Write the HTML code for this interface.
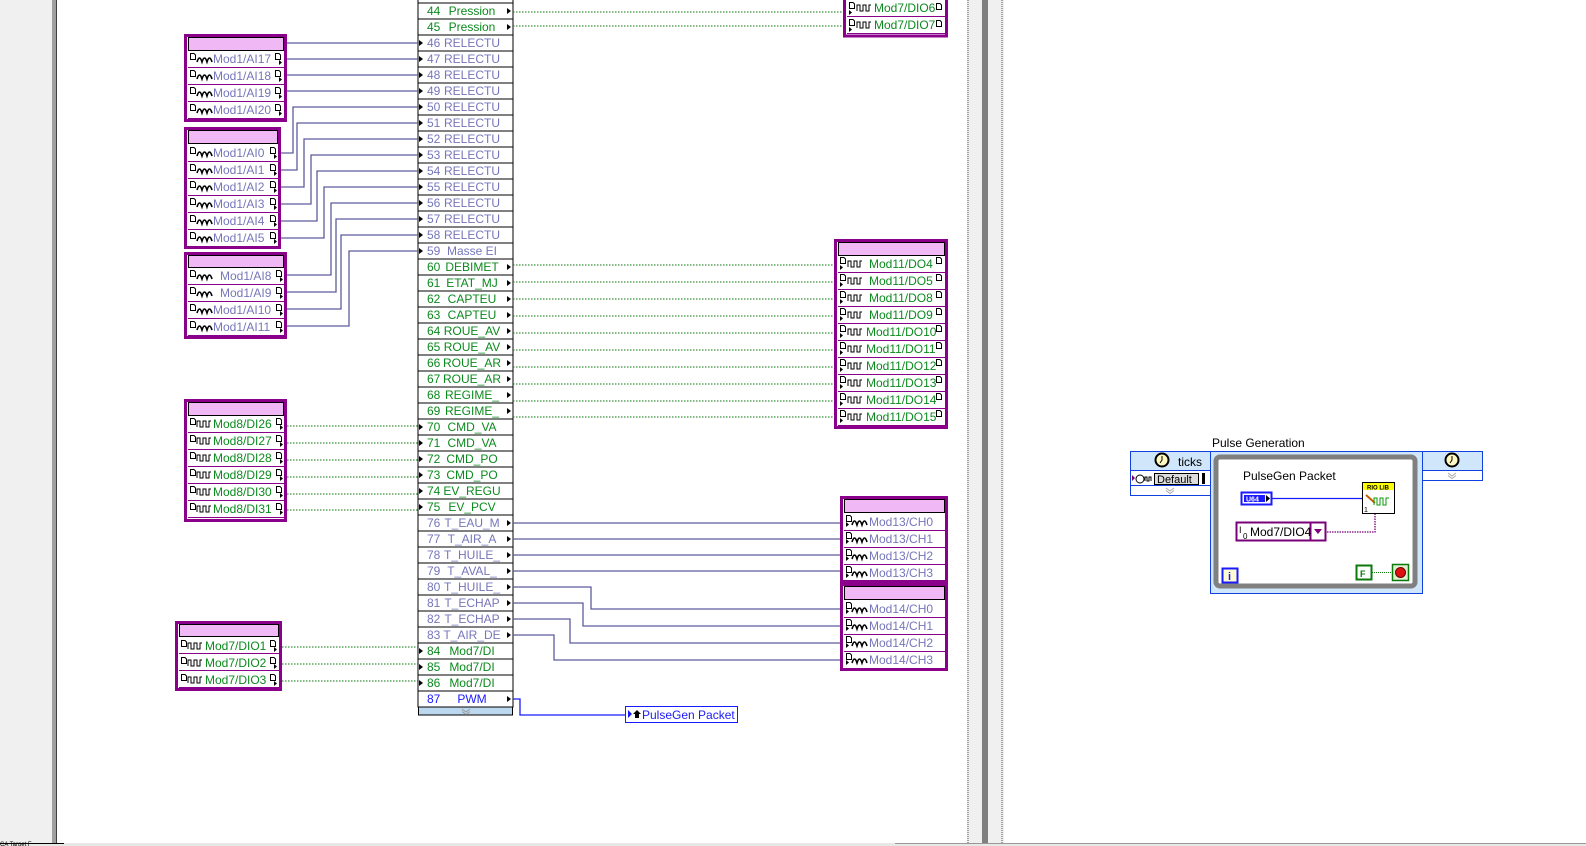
<!DOCTYPE html>
<html><head><meta charset="utf-8">
<style>
html,body{margin:0;padding:0;background:#fff;width:1586px;height:846px;overflow:hidden}
svg{display:block;font-family:"Liberation Sans",sans-serif;font-size:12px}
.g{fill:#0b8a1e}.p{fill:#7676bb}.b{fill:#1a1aff}
.tb{font-size:12px}
.wp{stroke:#5c5c9c;stroke-width:1.3;fill:none}
.wg{stroke:#0a7a0a;stroke-width:1;stroke-dasharray:1.5 1.5;fill:none}
</style></head><body>
<svg width="1586" height="846" viewBox="0 0 1586 846" xmlns="http://www.w3.org/2000/svg">
<defs>
<g id="aw"><path d="M0 7 Q2.5 -1 5 7 Q7.5 -1 10 7 Q12.5 -1 15 7" stroke="#000" stroke-width="1.6" fill="none"/></g>
<g id="sw"><path d="M0 7 V1 H3 V7 H6 V1 H9 V7 H12 V1 H14" stroke="#000" stroke-width="1" fill="none"/></g>
<g id="doc"><path d="M0.5 0.5 H4 L5.5 2 V6.5 H0.5 Z" stroke="#000" stroke-width="1" fill="#fff"/></g>
<g id="arr"><path d="M0 0 L4 3 L0 6 Z" fill="#000"/></g>
<g id="sa"><path d="M0 0 L3 2.5 L0 5 Z" fill="#000"/></g>
</defs>

<rect x="0" y="0" width="52" height="846" fill="#f0f0f0"/>
<rect x="52" y="0" width="5" height="843" fill="#a0a0a0"/>
<rect x="56" y="0" width="1" height="843" fill="#404040"/>
<rect x="967" y="0" width="37" height="843" fill="#f0f0f0"/>
<line x1="968" y1="0" x2="968" y2="843" stroke="#555" stroke-dasharray="1 1"/>
<line x1="1002" y1="0" x2="1002" y2="843" stroke="#555" stroke-dasharray="1 1"/>
<rect x="982" y="0" width="6" height="843" fill="#808080"/>
<rect x="0" y="843" width="1586" height="3" fill="#e8e8e8"/>
<line x1="0" y1="843.5" x2="64" y2="843.5" stroke="#000"/>
<line x1="895" y1="843.5" x2="1586" y2="843.5" stroke="#999"/>

<rect x="418" y="-13" width="95" height="720" fill="#fff" stroke="#000"/>
<g stroke="#000" stroke-width="1">
<line x1="418" y1="3" x2="513" y2="3"/><line x1="418" y1="19" x2="513" y2="19"/><line x1="418" y1="35" x2="513" y2="35"/><line x1="418" y1="51" x2="513" y2="51"/><line x1="418" y1="67" x2="513" y2="67"/><line x1="418" y1="83" x2="513" y2="83"/><line x1="418" y1="99" x2="513" y2="99"/><line x1="418" y1="115" x2="513" y2="115"/><line x1="418" y1="131" x2="513" y2="131"/><line x1="418" y1="147" x2="513" y2="147"/><line x1="418" y1="163" x2="513" y2="163"/><line x1="418" y1="179" x2="513" y2="179"/><line x1="418" y1="195" x2="513" y2="195"/><line x1="418" y1="211" x2="513" y2="211"/><line x1="418" y1="227" x2="513" y2="227"/><line x1="418" y1="243" x2="513" y2="243"/><line x1="418" y1="259" x2="513" y2="259"/><line x1="418" y1="275" x2="513" y2="275"/><line x1="418" y1="291" x2="513" y2="291"/><line x1="418" y1="307" x2="513" y2="307"/><line x1="418" y1="323" x2="513" y2="323"/><line x1="418" y1="339" x2="513" y2="339"/><line x1="418" y1="355" x2="513" y2="355"/><line x1="418" y1="371" x2="513" y2="371"/><line x1="418" y1="387" x2="513" y2="387"/><line x1="418" y1="403" x2="513" y2="403"/><line x1="418" y1="419" x2="513" y2="419"/><line x1="418" y1="435" x2="513" y2="435"/><line x1="418" y1="451" x2="513" y2="451"/><line x1="418" y1="467" x2="513" y2="467"/><line x1="418" y1="483" x2="513" y2="483"/><line x1="418" y1="499" x2="513" y2="499"/><line x1="418" y1="515" x2="513" y2="515"/><line x1="418" y1="531" x2="513" y2="531"/><line x1="418" y1="547" x2="513" y2="547"/><line x1="418" y1="563" x2="513" y2="563"/><line x1="418" y1="579" x2="513" y2="579"/><line x1="418" y1="595" x2="513" y2="595"/><line x1="418" y1="611" x2="513" y2="611"/><line x1="418" y1="627" x2="513" y2="627"/><line x1="418" y1="643" x2="513" y2="643"/><line x1="418" y1="659" x2="513" y2="659"/><line x1="418" y1="675" x2="513" y2="675"/><line x1="418" y1="691" x2="513" y2="691"/>
</g>
<rect x="418.5" y="707" width="94" height="8" fill="#bcd8ee" stroke="#000"/>
<path d="M462 709 L466 712 L470 709 M462 711.5 L466 714.5 L470 711.5" stroke="#999" fill="none"/>
<g class="tb">
<text x="427" y="15" class="g">44</text><text x="472" y="15" class="g" text-anchor="middle">Pression</text>
<text x="427" y="31" class="g">45</text><text x="472" y="31" class="g" text-anchor="middle">Pression</text>
<text x="427" y="47" class="p">46</text><text x="472" y="47" class="p" text-anchor="middle">RELECTU</text>
<text x="427" y="63" class="p">47</text><text x="472" y="63" class="p" text-anchor="middle">RELECTU</text>
<text x="427" y="79" class="p">48</text><text x="472" y="79" class="p" text-anchor="middle">RELECTU</text>
<text x="427" y="95" class="p">49</text><text x="472" y="95" class="p" text-anchor="middle">RELECTU</text>
<text x="427" y="111" class="p">50</text><text x="472" y="111" class="p" text-anchor="middle">RELECTU</text>
<text x="427" y="127" class="p">51</text><text x="472" y="127" class="p" text-anchor="middle">RELECTU</text>
<text x="427" y="143" class="p">52</text><text x="472" y="143" class="p" text-anchor="middle">RELECTU</text>
<text x="427" y="159" class="p">53</text><text x="472" y="159" class="p" text-anchor="middle">RELECTU</text>
<text x="427" y="175" class="p">54</text><text x="472" y="175" class="p" text-anchor="middle">RELECTU</text>
<text x="427" y="191" class="p">55</text><text x="472" y="191" class="p" text-anchor="middle">RELECTU</text>
<text x="427" y="207" class="p">56</text><text x="472" y="207" class="p" text-anchor="middle">RELECTU</text>
<text x="427" y="223" class="p">57</text><text x="472" y="223" class="p" text-anchor="middle">RELECTU</text>
<text x="427" y="239" class="p">58</text><text x="472" y="239" class="p" text-anchor="middle">RELECTU</text>
<text x="427" y="255" class="p">59</text><text x="472" y="255" class="p" text-anchor="middle">Masse EI</text>
<text x="427" y="271" class="g">60</text><text x="472" y="271" class="g" text-anchor="middle">DEBIMET</text>
<text x="427" y="287" class="g">61</text><text x="472" y="287" class="g" text-anchor="middle">ETAT_MJ</text>
<text x="427" y="303" class="g">62</text><text x="472" y="303" class="g" text-anchor="middle">CAPTEU</text>
<text x="427" y="319" class="g">63</text><text x="472" y="319" class="g" text-anchor="middle">CAPTEU</text>
<text x="427" y="335" class="g">64</text><text x="472" y="335" class="g" text-anchor="middle">ROUE_AV</text>
<text x="427" y="351" class="g">65</text><text x="472" y="351" class="g" text-anchor="middle">ROUE_AV</text>
<text x="427" y="367" class="g">66</text><text x="472" y="367" class="g" text-anchor="middle">ROUE_AR</text>
<text x="427" y="383" class="g">67</text><text x="472" y="383" class="g" text-anchor="middle">ROUE_AR</text>
<text x="427" y="399" class="g">68</text><text x="472" y="399" class="g" text-anchor="middle">REGIME_</text>
<text x="427" y="415" class="g">69</text><text x="472" y="415" class="g" text-anchor="middle">REGIME_</text>
<text x="427" y="431" class="g">70</text><text x="472" y="431" class="g" text-anchor="middle">CMD_VA</text>
<text x="427" y="447" class="g">71</text><text x="472" y="447" class="g" text-anchor="middle">CMD_VA</text>
<text x="427" y="463" class="g">72</text><text x="472" y="463" class="g" text-anchor="middle">CMD_PO</text>
<text x="427" y="479" class="g">73</text><text x="472" y="479" class="g" text-anchor="middle">CMD_PO</text>
<text x="427" y="495" class="g">74</text><text x="472" y="495" class="g" text-anchor="middle">EV_REGU</text>
<text x="427" y="511" class="g">75</text><text x="472" y="511" class="g" text-anchor="middle">EV_PCV</text>
<text x="427" y="527" class="p">76</text><text x="472" y="527" class="p" text-anchor="middle">T_EAU_M</text>
<text x="427" y="543" class="p">77</text><text x="472" y="543" class="p" text-anchor="middle">T_AIR_A</text>
<text x="427" y="559" class="p">78</text><text x="472" y="559" class="p" text-anchor="middle">T_HUILE_</text>
<text x="427" y="575" class="p">79</text><text x="472" y="575" class="p" text-anchor="middle">T_AVAL_</text>
<text x="427" y="591" class="p">80</text><text x="472" y="591" class="p" text-anchor="middle">T_HUILE_</text>
<text x="427" y="607" class="p">81</text><text x="472" y="607" class="p" text-anchor="middle">T_ECHAP</text>
<text x="427" y="623" class="p">82</text><text x="472" y="623" class="p" text-anchor="middle">T_ECHAP</text>
<text x="427" y="639" class="p">83</text><text x="472" y="639" class="p" text-anchor="middle">T_AIR_DE</text>
<text x="427" y="655" class="g">84</text><text x="472" y="655" class="g" text-anchor="middle">Mod7/DI</text>
<text x="427" y="671" class="g">85</text><text x="472" y="671" class="g" text-anchor="middle">Mod7/DI</text>
<text x="427" y="687" class="g">86</text><text x="472" y="687" class="g" text-anchor="middle">Mod7/DI</text>
<text x="427" y="703" class="b">87</text><text x="472" y="703" class="b" text-anchor="middle">PWM</text>
</g>
<g>
<use href="#arr" x="419" y="40"/><use href="#arr" x="419" y="56"/><use href="#arr" x="419" y="72"/><use href="#arr" x="419" y="88"/><use href="#arr" x="419" y="104"/><use href="#arr" x="419" y="120"/><use href="#arr" x="419" y="136"/><use href="#arr" x="419" y="152"/><use href="#arr" x="419" y="168"/><use href="#arr" x="419" y="184"/><use href="#arr" x="419" y="200"/><use href="#arr" x="419" y="216"/><use href="#arr" x="419" y="232"/><use href="#arr" x="419" y="248"/>
<use href="#arr" x="419" y="424"/><use href="#arr" x="419" y="440"/><use href="#arr" x="419" y="456"/><use href="#arr" x="419" y="472"/><use href="#arr" x="419" y="488"/><use href="#arr" x="419" y="504"/>
<use href="#arr" x="419" y="648"/><use href="#arr" x="419" y="664"/><use href="#arr" x="419" y="680"/>
<use href="#arr" x="507" y="8"/><use href="#arr" x="507" y="24"/>
<use href="#arr" x="507" y="264"/><use href="#arr" x="507" y="280"/><use href="#arr" x="507" y="296"/><use href="#arr" x="507" y="312"/><use href="#arr" x="507" y="328"/><use href="#arr" x="507" y="344"/><use href="#arr" x="507" y="360"/><use href="#arr" x="507" y="376"/><use href="#arr" x="507" y="392"/><use href="#arr" x="507" y="408"/>
<use href="#arr" x="507" y="520"/><use href="#arr" x="507" y="536"/><use href="#arr" x="507" y="552"/><use href="#arr" x="507" y="568"/><use href="#arr" x="507" y="584"/><use href="#arr" x="507" y="600"/><use href="#arr" x="507" y="616"/><use href="#arr" x="507" y="632"/><use href="#arr" x="507" y="696"/>
</g>

<g class="wp">
<path d="M287 43 H418"/><path d="M287 59 H418"/><path d="M287 75 H418"/><path d="M287 91 H418"/>
<path d="M281 153 H293 V107 H418"/><path d="M281 170 H297 V123 H418"/><path d="M281 187 H304 V139 H418"/><path d="M281 204 H311 V155 H418"/><path d="M281 221 H317 V171 H418"/><path d="M281 238 H324 V187 H418"/>
<path d="M287 275 H331 V203 H418"/><path d="M287 292 H336 V219 H418"/><path d="M287 309 H341 V235 H418"/><path d="M287 326 H349 V251 H418"/>
<path d="M513 523 H840"/><path d="M513 539 H840"/><path d="M513 555 H840"/><path d="M513 571 H840"/>
<path d="M513 587 H591 V609 H840"/><path d="M513 603 H583 V626 H840"/><path d="M513 619 H570 V643 H840"/><path d="M513 635 H554 V660 H840"/>
</g>
<path d="M513 699 H520 V715 H625" stroke="#1a1aff" stroke-width="1.3" fill="none"/>
<g class="wg">
<path d="M513 12 H843"/><path d="M513 26 H843"/>
<path d="M513 265 H834"/><path d="M513 282 H834"/><path d="M513 299 H834"/><path d="M513 316 H834"/><path d="M513 333 H834"/><path d="M513 350 H834"/><path d="M513 367 H834"/><path d="M513 384 H834"/><path d="M513 401 H834"/><path d="M513 417 H834"/>
<path d="M287 426 H418"/><path d="M287 443 H418"/><path d="M287 460 H418"/><path d="M287 477 H418"/><path d="M287 494 H418"/><path d="M287 510 H418"/>
<path d="M282 647 H418"/><path d="M282 664 H418"/><path d="M282 681 H418"/>
</g>

<g>
<rect x="185.5" y="35.5" width="100" height="85" fill="#fff" stroke="#8b008b" stroke-width="3"/>
<rect x="188.5" y="37.5" width="95" height="13" fill="#f0b8f4" stroke="#000"/>
<g stroke="#8b008b"><line x1="188" y1="67.5" x2="284" y2="67.5"/><line x1="188" y1="84.5" x2="284" y2="84.5"/><line x1="188" y1="101.5" x2="284" y2="101.5"/><line x1="188" y1="118.5" x2="284" y2="118.5"/></g>
<g class="p"><text x="213" y="63">Mod1/AI17</text><text x="213" y="80">Mod1/AI18</text><text x="213" y="97">Mod1/AI19</text><text x="213" y="114">Mod1/AI20</text></g>
<rect x="185.5" y="128.5" width="94" height="119" fill="#fff" stroke="#8b008b" stroke-width="3"/>
<rect x="188.5" y="130.5" width="89" height="13" fill="#f0b8f4" stroke="#000"/>
<g stroke="#8b008b"><line x1="188" y1="161.5" x2="278" y2="161.5"/><line x1="188" y1="178.5" x2="278" y2="178.5"/><line x1="188" y1="195.5" x2="278" y2="195.5"/><line x1="188" y1="212.5" x2="278" y2="212.5"/><line x1="188" y1="229.5" x2="278" y2="229.5"/></g>
<g class="p"><text x="213" y="157">Mod1/AI0</text><text x="213" y="174">Mod1/AI1</text><text x="213" y="191">Mod1/AI2</text><text x="213" y="208">Mod1/AI3</text><text x="213" y="225">Mod1/AI4</text><text x="213" y="242">Mod1/AI5</text></g>
<rect x="185.5" y="253.5" width="100" height="84" fill="#fff" stroke="#8b008b" stroke-width="3"/>
<rect x="188.5" y="255.5" width="95" height="12" fill="#f0b8f4" stroke="#000"/>
<g stroke="#8b008b"><line x1="188" y1="284.5" x2="284" y2="284.5"/><line x1="188" y1="301.5" x2="284" y2="301.5"/><line x1="188" y1="318.5" x2="284" y2="318.5"/><line x1="188" y1="335.5" x2="284" y2="335.5"/></g>
<g class="p"><text x="220" y="280">Mod1/AI8</text><text x="220" y="297">Mod1/AI9</text><text x="213" y="314">Mod1/AI10</text><text x="213" y="331">Mod1/AI11</text></g>
<rect x="185.5" y="400.5" width="100" height="120" fill="#fff" stroke="#8b008b" stroke-width="3"/>
<rect x="188.5" y="402.5" width="95" height="13" fill="#f0b8f4" stroke="#000"/>
<g stroke="#8b008b"><line x1="188" y1="432.5" x2="284" y2="432.5"/><line x1="188" y1="449.5" x2="284" y2="449.5"/><line x1="188" y1="466.5" x2="284" y2="466.5"/><line x1="188" y1="483.5" x2="284" y2="483.5"/><line x1="188" y1="500.5" x2="284" y2="500.5"/><line x1="188" y1="517.5" x2="284" y2="517.5"/></g>
<g class="g"><text x="213" y="428">Mod8/DI26</text><text x="213" y="445">Mod8/DI27</text><text x="213" y="462">Mod8/DI28</text><text x="213" y="479">Mod8/DI29</text><text x="213" y="496">Mod8/DI30</text><text x="213" y="513">Mod8/DI31</text></g>
<rect x="176.5" y="622.5" width="104" height="67" fill="#fff" stroke="#8b008b" stroke-width="3"/>
<rect x="179.5" y="624.5" width="99" height="12" fill="#f0b8f4" stroke="#000"/>
<g stroke="#8b008b"><line x1="179" y1="653.5" x2="279" y2="653.5"/><line x1="179" y1="670.5" x2="279" y2="670.5"/><line x1="179" y1="687.5" x2="279" y2="687.5"/></g>
<g class="g"><text x="205" y="650">Mod7/DIO1</text><text x="205" y="667">Mod7/DIO2</text><text x="205" y="684">Mod7/DIO3</text></g>
<rect x="844.5" y="-20" width="102" height="56" fill="#fff" stroke="#8b008b" stroke-width="3"/>
<g stroke="#8b008b"><line x1="847" y1="16.5" x2="945" y2="16.5"/><line x1="847" y1="33.5" x2="945" y2="33.5"/></g>
<g class="g"><text x="874" y="12">Mod7/DIO6</text><text x="874" y="29">Mod7/DIO7</text></g>
<rect x="835.5" y="240.5" width="111" height="187" fill="#fff" stroke="#8b008b" stroke-width="3"/>
<rect x="838.5" y="242.5" width="106" height="13" fill="#f0b8f4" stroke="#000"/>
<g stroke="#8b008b"><line x1="838" y1="272.5" x2="945" y2="272.5"/><line x1="838" y1="289.5" x2="945" y2="289.5"/><line x1="838" y1="306.5" x2="945" y2="306.5"/><line x1="838" y1="323.5" x2="945" y2="323.5"/><line x1="838" y1="340.5" x2="945" y2="340.5"/><line x1="838" y1="357.5" x2="945" y2="357.5"/><line x1="838" y1="374.5" x2="945" y2="374.5"/><line x1="838" y1="391.5" x2="945" y2="391.5"/><line x1="838" y1="408.5" x2="945" y2="408.5"/><line x1="838" y1="425.5" x2="945" y2="425.5"/></g>
<g class="g"><text x="869" y="268">Mod11/DO4</text><text x="869" y="285">Mod11/DO5</text><text x="869" y="302">Mod11/DO8</text><text x="869" y="319">Mod11/DO9</text><text x="866" y="336">Mod11/DO10</text><text x="866" y="353">Mod11/DO11</text><text x="866" y="370">Mod11/DO12</text><text x="866" y="387">Mod11/DO13</text><text x="866" y="404">Mod11/DO14</text><text x="866" y="421">Mod11/DO15</text></g>
<rect x="841.5" y="497.5" width="105" height="84" fill="#fff" stroke="#8b008b" stroke-width="3"/>
<rect x="844.5" y="499.5" width="100" height="13" fill="#f0b8f4" stroke="#000"/>
<g stroke="#8b008b"><line x1="844" y1="530.5" x2="945" y2="530.5"/><line x1="844" y1="547.5" x2="945" y2="547.5"/><line x1="844" y1="564.5" x2="945" y2="564.5"/></g>
<g class="p"><text x="869" y="526">Mod13/CH0</text><text x="869" y="543">Mod13/CH1</text><text x="869" y="560">Mod13/CH2</text><text x="869" y="577">Mod13/CH3</text></g>
<rect x="841.5" y="584.5" width="105" height="85" fill="#fff" stroke="#8b008b" stroke-width="3"/>
<rect x="844.5" y="586.5" width="100" height="13" fill="#f0b8f4" stroke="#000"/>
<g stroke="#8b008b"><line x1="844" y1="617.5" x2="945" y2="617.5"/><line x1="844" y1="634.5" x2="945" y2="634.5"/><line x1="844" y1="651.5" x2="945" y2="651.5"/></g>
<g class="p"><text x="869" y="613">Mod14/CH0</text><text x="869" y="630">Mod14/CH1</text><text x="869" y="647">Mod14/CH2</text><text x="869" y="664">Mod14/CH3</text></g>
</g>

<g>
<use href="#aw" x="197" y="55"/><use href="#aw" x="197" y="72"/><use href="#aw" x="197" y="89"/><use href="#aw" x="197" y="106"/>
<use href="#aw" x="197" y="149"/><use href="#aw" x="197" y="166"/><use href="#aw" x="197" y="183"/><use href="#aw" x="197" y="200"/><use href="#aw" x="197" y="217"/><use href="#aw" x="197" y="234"/>
<use href="#aw" x="197" y="272"/><use href="#aw" x="197" y="289"/><use href="#aw" x="197" y="306"/><use href="#aw" x="197" y="323"/>
<use href="#aw" x="852" y="518"/><use href="#aw" x="852" y="535"/><use href="#aw" x="852" y="552"/><use href="#aw" x="852" y="569"/>
<use href="#aw" x="852" y="605"/><use href="#aw" x="852" y="622"/><use href="#aw" x="852" y="639"/><use href="#aw" x="852" y="656"/>
<use href="#sw" x="197" y="420"/><use href="#sw" x="197" y="437"/><use href="#sw" x="197" y="454"/><use href="#sw" x="197" y="471"/><use href="#sw" x="197" y="488"/><use href="#sw" x="197" y="505"/>
<use href="#sw" x="188" y="642"/><use href="#sw" x="188" y="659"/><use href="#sw" x="188" y="676"/>
<use href="#sw" x="857" y="4"/><use href="#sw" x="857" y="21"/>
<use href="#sw" x="848" y="260"/><use href="#sw" x="848" y="277"/><use href="#sw" x="848" y="294"/><use href="#sw" x="848" y="311"/><use href="#sw" x="848" y="328"/><use href="#sw" x="848" y="345"/><use href="#sw" x="848" y="362"/><use href="#sw" x="848" y="379"/><use href="#sw" x="848" y="396"/><use href="#sw" x="848" y="413"/>
<use href="#doc" x="190" y="53"/><use href="#doc" x="190" y="70"/><use href="#doc" x="190" y="87"/><use href="#doc" x="190" y="104"/>
<use href="#doc" x="190" y="147"/><use href="#doc" x="190" y="164"/><use href="#doc" x="190" y="181"/><use href="#doc" x="190" y="198"/><use href="#doc" x="190" y="215"/><use href="#doc" x="190" y="232"/>
<use href="#doc" x="190" y="270"/><use href="#doc" x="190" y="287"/><use href="#doc" x="190" y="304"/><use href="#doc" x="190" y="321"/>
<use href="#doc" x="190" y="418"/><use href="#doc" x="190" y="435"/><use href="#doc" x="190" y="452"/><use href="#doc" x="190" y="469"/><use href="#doc" x="190" y="486"/><use href="#doc" x="190" y="503"/>
<use href="#doc" x="181" y="640"/><use href="#doc" x="181" y="657"/><use href="#doc" x="181" y="674"/>
<use href="#doc" x="275" y="53"/><use href="#doc" x="275" y="70"/><use href="#doc" x="275" y="87"/><use href="#doc" x="275" y="104"/>
<use href="#doc" x="270" y="147"/><use href="#doc" x="270" y="164"/><use href="#doc" x="270" y="181"/><use href="#doc" x="270" y="198"/><use href="#doc" x="270" y="215"/><use href="#doc" x="270" y="232"/>
<use href="#doc" x="276" y="270"/><use href="#doc" x="276" y="287"/><use href="#doc" x="276" y="304"/><use href="#doc" x="276" y="321"/>
<use href="#doc" x="276" y="418"/><use href="#doc" x="276" y="435"/><use href="#doc" x="276" y="452"/><use href="#doc" x="276" y="469"/><use href="#doc" x="276" y="486"/><use href="#doc" x="276" y="503"/>
<use href="#doc" x="270" y="640"/><use href="#doc" x="270" y="657"/><use href="#doc" x="270" y="674"/>
<use href="#doc" x="936" y="3"/><use href="#doc" x="936" y="20"/>
<use href="#doc" x="849" y="2"/><use href="#doc" x="849" y="19"/>
<use href="#doc" x="840" y="257"/><use href="#doc" x="840" y="274"/><use href="#doc" x="840" y="291"/><use href="#doc" x="840" y="308"/><use href="#doc" x="840" y="325"/><use href="#doc" x="840" y="342"/><use href="#doc" x="840" y="359"/><use href="#doc" x="840" y="376"/><use href="#doc" x="840" y="393"/><use href="#doc" x="840" y="410"/>
<use href="#doc" x="936" y="257"/><use href="#doc" x="936" y="274"/><use href="#doc" x="936" y="291"/><use href="#doc" x="936" y="308"/><use href="#doc" x="936" y="325"/><use href="#doc" x="936" y="342"/><use href="#doc" x="936" y="359"/><use href="#doc" x="936" y="376"/><use href="#doc" x="936" y="393"/><use href="#doc" x="936" y="410"/>
<use href="#doc" x="846" y="515"/><use href="#doc" x="846" y="532"/><use href="#doc" x="846" y="549"/><use href="#doc" x="846" y="566"/>
<use href="#doc" x="846" y="602"/><use href="#doc" x="846" y="619"/><use href="#doc" x="846" y="636"/><use href="#doc" x="846" y="653"/>
<use href="#sa" x="279" y="60"/><use href="#sa" x="279" y="77"/><use href="#sa" x="279" y="94"/><use href="#sa" x="279" y="111"/>
<use href="#sa" x="274" y="154"/><use href="#sa" x="274" y="171"/><use href="#sa" x="274" y="188"/><use href="#sa" x="274" y="205"/><use href="#sa" x="274" y="222"/><use href="#sa" x="274" y="239"/>
<use href="#sa" x="280" y="277"/><use href="#sa" x="280" y="294"/><use href="#sa" x="280" y="311"/><use href="#sa" x="280" y="328"/>
<use href="#sa" x="280" y="425"/><use href="#sa" x="280" y="442"/><use href="#sa" x="280" y="459"/><use href="#sa" x="280" y="476"/><use href="#sa" x="280" y="493"/><use href="#sa" x="280" y="510"/>
<use href="#sa" x="274" y="647"/><use href="#sa" x="274" y="664"/><use href="#sa" x="274" y="681"/>
<use href="#sa" x="849" y="10"/><use href="#sa" x="849" y="27"/>
<use href="#sa" x="840" y="265"/><use href="#sa" x="840" y="282"/><use href="#sa" x="840" y="299"/><use href="#sa" x="840" y="316"/><use href="#sa" x="840" y="333"/><use href="#sa" x="840" y="350"/><use href="#sa" x="840" y="367"/><use href="#sa" x="840" y="384"/><use href="#sa" x="840" y="401"/><use href="#sa" x="840" y="418"/>
<use href="#sa" x="846" y="522"/><use href="#sa" x="846" y="539"/><use href="#sa" x="846" y="556"/><use href="#sa" x="846" y="573"/>
<use href="#sa" x="846" y="609"/><use href="#sa" x="846" y="626"/><use href="#sa" x="846" y="643"/><use href="#sa" x="846" y="660"/>
</g>

<rect x="625.5" y="706.5" width="112" height="16" fill="#fff" stroke="#1a1aff"/>
<path d="M628 710 L632 714 L628 718 Z" fill="#1a1aff"/>
<path d="M633 714 L637 710 L641 714 H639 V718 H635 V714 Z" fill="#000"/>
<text x="642" y="719" class="b">PulseGen Packet</text>

<text x="1212" y="447" fill="#000">Pulse Generation</text>
<rect x="1130.5" y="451.5" width="80" height="44" fill="#fff" stroke="#1040e0"/>
<rect x="1131" y="452" width="79" height="18" fill="#cfe6fb"/>
<line x1="1131" y1="470.5" x2="1210" y2="470.5" stroke="#1040e0"/>
<line x1="1131" y1="485.5" x2="1210" y2="485.5" stroke="#1040e0"/>
<circle cx="1162" cy="460" r="6.5" fill="#fff8c0" stroke="#000" stroke-width="2"/>
<path d="M1162 456 V460 L1160 463" stroke="#000" fill="none"/>
<text x="1178" y="466" fill="#000">ticks</text>
<path d="M1132 475 L1135 478 L1132 481 Z" fill="#7a007a"/>
<circle cx="1140" cy="479" r="4" fill="#fff" stroke="#000"/>
<path d="M1145 481 V477 H1147 V481 H1149 V477 H1151 V481" stroke="#000" fill="none"/>
<rect x="1154.5" y="473.5" width="44" height="11" fill="#ddd" stroke="#000"/>
<text x="1157" y="483" style="font-size:11px" fill="#000">Default</text>
<rect x="1202" y="473" width="3" height="11" fill="#000"/>
<path d="M1166 488 L1170 491 L1174 488 M1166 490.5 L1170 493.5 L1174 490.5" stroke="#aaa" fill="none"/>
<rect x="1210.5" y="451.5" width="212" height="142" fill="#cfe6fb" stroke="#1040e0"/>
<rect x="1216" y="457" width="199" height="129" rx="4" fill="#fff" stroke="#808080" stroke-width="5"/>
<text x="1243" y="480" fill="#000">PulseGen Packet</text>
<rect x="1241.5" y="492.5" width="30" height="12" fill="#fff" stroke="#1a1aff" stroke-width="2"/>
<rect x="1244" y="495" width="21" height="7" fill="#1a1aff"/>
<text x="1246" y="501.5" style="font-size:7px;font-weight:bold" fill="#fff">U64</text>
<path d="M1266 495 L1270 498.5 L1266 502 Z" fill="#000"/>
<line x1="1272" y1="498.5" x2="1362" y2="498.5" stroke="#1a1aff" stroke-width="1.3"/>
<rect x="1362.5" y="482.5" width="32" height="31" fill="#fff" stroke="#000"/>
<rect x="1363" y="483" width="31" height="7" fill="#ffff00"/>
<text x="1367" y="489.5" style="font-size:6px;font-weight:bold" fill="#000">RIO LIB</text>
<path d="M1366 495 L1375 503" stroke="#c06000" stroke-width="2"/>
<path d="M1374 505 V498 H1377 V505 H1380 V498 H1383 V505 H1386 V498 H1389" stroke="#0a9a0a" stroke-width="1" fill="none"/>
<text x="1364" y="512" style="font-size:7px" fill="#000">1</text>
<rect x="1236.5" y="522.5" width="74" height="18" fill="#fff" stroke="#7a007a" stroke-width="2"/>
<rect x="1310.5" y="522.5" width="15" height="18" fill="#fff" stroke="#7a007a" stroke-width="2"/>
<path d="M1314 529 L1322 529 L1318 534 Z" fill="#7a007a"/>
<text x="1239" y="533" style="font-size:9px" fill="#000">I</text><text x="1243" y="539" style="font-size:8px" fill="#000">0</text>
<text x="1250" y="536" fill="#000">Mod7/DIO4</text>
<path d="M1327 532 H1375 V514" stroke="#7a007a" stroke-width="1.3" stroke-dasharray="1.5 1" fill="none"/>
<rect x="1222.5" y="568.5" width="15" height="14" fill="#fffbd0" stroke="#1a1aff" stroke-width="2"/>
<text x="1228" y="580" style="font-size:11px;font-weight:bold" fill="#1a1aff">i</text>
<rect x="1356.5" y="565.5" width="15" height="14" fill="#fff" stroke="#0a7a0a" stroke-width="2"/>
<text x="1360" y="577" style="font-size:9px;font-weight:bold" fill="#0a7a0a">F</text>
<line x1="1372" y1="572.5" x2="1392" y2="572.5" stroke="#0a7a0a" stroke-dasharray="1 1"/>
<rect x="1392.5" y="564.5" width="16" height="16" fill="#dff0d0" stroke="#0a7a0a" stroke-width="1.5"/>
<circle cx="1400.5" cy="572.5" r="5" fill="#e01010" stroke="#600" stroke-width="1"/>
<rect x="1422.5" y="451.5" width="60" height="29" fill="#fff" stroke="#1040e0"/>
<rect x="1423" y="452" width="59" height="18" fill="#cfe6fb"/>
<line x1="1423" y1="470.5" x2="1482" y2="470.5" stroke="#1040e0"/>
<circle cx="1452" cy="460" r="6.5" fill="#fff8c0" stroke="#000" stroke-width="2"/>
<path d="M1452 456 V460 L1450 463" stroke="#000" fill="none"/>
<path d="M1448 473 L1452 476 L1456 473 M1448 475.5 L1452 478.5 L1456 475.5" stroke="#aaa" fill="none"/>

<text x="0" y="846" style="font-size:6px" fill="#000">CA Target F</text>
</svg>
</body></html>
